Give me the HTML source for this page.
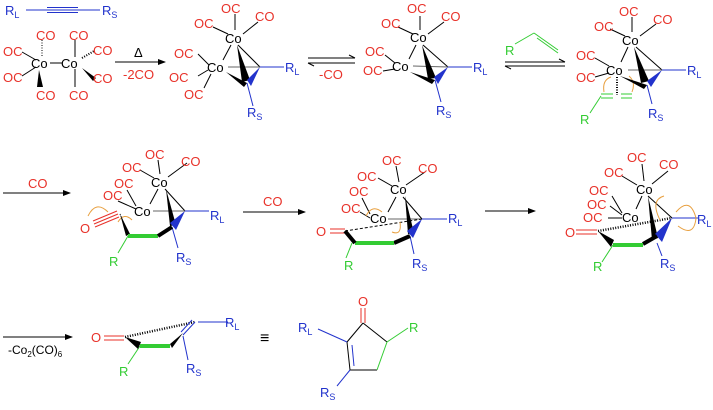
<!DOCTYPE html>
<html><head><style>
html,body{margin:0;padding:0;background:#fff}
svg text{font-family:"Liberation Sans",sans-serif;font-size:13px}
.r{fill:#e8322a}.k{fill:#000}.b{fill:#2233cc}.g{fill:#33cc33}
</style></head><body>
<svg width="713" height="405" viewBox="0 0 713 405" xmlns="http://www.w3.org/2000/svg">
<defs><marker id="ah" markerWidth="8" markerHeight="6" refX="7" refY="3" orient="auto"><path d="M0,0 L8,3 L0,6z" fill="#000"/></marker></defs>
<g stroke="#000" stroke-width="1" fill="none">
<line x1="26" y1="10" x2="47" y2="10" stroke="#2233cc"/>
<line x1="47" y1="7.5" x2="78" y2="7.5" stroke="#2233cc"/><line x1="47" y1="10" x2="78" y2="10" stroke="#2233cc"/><line x1="47" y1="12.5" x2="78" y2="12.5" stroke="#2233cc"/>
<line x1="78" y1="10" x2="100" y2="10" stroke="#2233cc"/>
<line x1="50" y1="63" x2="62" y2="63"/>
<line x1="42" y1="56" x2="42" y2="40" stroke-dasharray="1,1.5"/>
<line x1="36" y1="60" x2="22" y2="52"/><line x1="36" y1="67" x2="22" y2="76"/>
<line x1="75" y1="57" x2="75" y2="40"/><line x1="75" y1="69" x2="75" y2="87"/>
<line x1="82" y1="58" x2="94" y2="51" stroke-dasharray="1,1.5" stroke-width="2"/>
<line x1="115" y1="62" x2="165" y2="62" marker-end="url(#ah)"/>
<line x1="235" y1="30" x2="235" y2="14"/><line x1="243" y1="34" x2="258" y2="22"/><line x1="228" y1="34" x2="213" y2="27"/>
<line x1="231" y1="45" x2="223" y2="60"/><line x1="238" y1="45" x2="260" y2="67"/>
<line x1="209" y1="65" x2="198" y2="54"/><line x1="208" y1="70" x2="198" y2="76"/><line x1="211" y1="74" x2="204" y2="88"/>
<line x1="228" y1="67" x2="260" y2="67" stroke="#666"/>
<line x1="260" y1="67" x2="284" y2="67" stroke="#2233cc"/>
<line x1="247" y1="83" x2="253" y2="106" stroke="#2233cc"/>
<line x1="308" y1="58" x2="355" y2="58"/><line x1="355" y1="58" x2="349" y2="55"/>
<line x1="308" y1="63" x2="355" y2="63"/><line x1="308" y1="63" x2="314" y2="66"/>
<line x1="420" y1="30" x2="420" y2="16"/><line x1="428" y1="34" x2="444" y2="22"/><line x1="413" y1="34" x2="398" y2="27"/>
<line x1="416" y1="45" x2="409" y2="59"/><line x1="423" y1="45" x2="448" y2="67"/>
<line x1="395" y1="63" x2="385" y2="55"/><line x1="395" y1="69" x2="383" y2="71"/>
<line x1="413" y1="66" x2="448" y2="67" stroke="#666"/>
<line x1="448" y1="67" x2="472" y2="67" stroke="#2233cc"/>
<line x1="435" y1="80" x2="441" y2="102" stroke="#2233cc"/>
<line x1="505" y1="62" x2="565" y2="62"/><line x1="565" y1="62" x2="559" y2="59"/>
<line x1="505" y1="66" x2="565" y2="66"/><line x1="505" y1="66" x2="511" y2="69"/>
<line x1="515" y1="44" x2="534" y2="33" stroke="#33cc33"/><line x1="534" y1="33" x2="558" y2="50" stroke="#33cc33"/><line x1="537" y1="38" x2="558" y2="53" stroke="#33cc33"/>
<line x1="632" y1="32" x2="632" y2="17"/><line x1="640" y1="36" x2="656" y2="24"/><line x1="625" y1="36" x2="610" y2="29"/>
<line x1="628" y1="47" x2="621" y2="62"/><line x1="636" y1="47" x2="662" y2="70"/>
<line x1="609" y1="66" x2="595" y2="58"/><line x1="609" y1="73" x2="595" y2="77"/>
<line x1="628" y1="70" x2="662" y2="70" stroke="#666"/>
<line x1="662" y1="70" x2="686" y2="70" stroke="#2233cc"/>
<line x1="647" y1="85" x2="652" y2="104" stroke="#2233cc"/>
<line x1="617" y1="77" x2="617" y2="95" stroke-dasharray="1,1.5" stroke-width="2"/>
<line x1="590" y1="113" x2="601" y2="96" stroke="#33cc33"/>
<line x1="601" y1="94" x2="613" y2="94" stroke="#33cc33"/><line x1="601" y1="98" x2="613" y2="98" stroke="#33cc33"/>
<line x1="621" y1="94" x2="632" y2="94" stroke="#33cc33"/><line x1="621" y1="98" x2="632" y2="98" stroke="#33cc33"/>
<path d="M604,92 Q602,80 611,77" stroke="#e8a040"/><path d="M632,92 Q636,82 629,76" stroke="#e8a040"/>
<line x1="3" y1="193" x2="70" y2="193" marker-end="url(#ah)"/>
<line x1="160" y1="174" x2="158" y2="160"/><line x1="168" y1="177" x2="187" y2="163"/><line x1="154" y1="178" x2="140" y2="170"/>
<line x1="158" y1="189" x2="150" y2="204"/><line x1="165" y1="189" x2="185" y2="211"/>
<line x1="136" y1="206" x2="127" y2="190"/><line x1="136" y1="209" x2="118" y2="201"/>
<line x1="153" y1="211" x2="185" y2="211" stroke="#666"/>
<line x1="185" y1="211" x2="209" y2="211" stroke="#2233cc"/>
<line x1="172" y1="227" x2="178" y2="248" stroke="#2233cc"/>
<line x1="94" y1="224" x2="118" y2="214" stroke="#e8322a"/><line x1="93" y1="221" x2="117" y2="211" stroke="#e8322a"/><line x1="95" y1="227" x2="119" y2="217" stroke="#e8322a"/>
<line x1="120" y1="214" x2="128" y2="233" stroke-dasharray="1,1.5"/>
<line x1="128" y1="236" x2="118" y2="253" stroke="#33cc33"/>
<path d="M88,216 Q96,200 108,212" stroke="#e8a040"/><path d="M118,222 Q124,212 132,220" stroke="#e8a040"/>
<line x1="243" y1="212" x2="305" y2="212" marker-end="url(#ah)"/>
<line x1="399" y1="182" x2="396" y2="166"/><line x1="406" y1="185" x2="425" y2="172"/><line x1="392" y1="186" x2="378" y2="178"/>
<line x1="396" y1="197" x2="388" y2="212"/><line x1="403" y1="197" x2="422" y2="219"/>
<line x1="370" y1="214" x2="362" y2="198"/><line x1="370" y1="218" x2="360" y2="212"/>
<line x1="388" y1="219" x2="422" y2="219" stroke="#666"/>
<line x1="422" y1="219" x2="447" y2="219" stroke="#2233cc"/>
<line x1="410" y1="236" x2="414" y2="254" stroke="#2233cc"/>
<line x1="330" y1="229" x2="345" y2="229" stroke="#e8322a"/><line x1="330" y1="233" x2="345" y2="233" stroke="#e8322a"/>
<line x1="345" y1="231" x2="422" y2="219" stroke-dasharray="3,2"/>
<line x1="352" y1="243" x2="346" y2="258" stroke="#33cc33"/>
<path d="M366,216 Q372,204 382,212" stroke="#e8a040"/><path d="M392,232 Q402,236 400,222" stroke="#e8a040"/>
<line x1="485" y1="211" x2="535" y2="211" marker-end="url(#ah)"/>
<line x1="644" y1="181" x2="642" y2="164"/><line x1="652" y1="184" x2="668" y2="171"/><line x1="637" y1="185" x2="622" y2="176"/>
<line x1="642" y1="196" x2="636" y2="209"/><line x1="648" y1="196" x2="672" y2="218"/>
<line x1="622" y1="213" x2="612" y2="196"/><line x1="622" y1="215" x2="610" y2="206"/><line x1="622" y1="218" x2="608" y2="218"/>
<line x1="672" y1="218" x2="698" y2="218" stroke="#2233cc"/>
<line x1="657" y1="243" x2="662" y2="256" stroke="#2233cc"/>
<line x1="576" y1="230" x2="597" y2="230" stroke="#e8322a"/><line x1="576" y1="234" x2="597" y2="234" stroke="#e8322a"/>
<line x1="598" y1="231" x2="672" y2="218" stroke-dasharray="1,1.5" stroke-width="2.5"/>
<line x1="613" y1="245" x2="602" y2="262" stroke="#33cc33"/>
<path d="M660,220 Q650,200 664,196" stroke="#e8a040"/><path d="M676,212 Q690,196 696,218 Q694,238 678,226" stroke="#e8a040"/>
<line x1="3" y1="337" x2="72" y2="337" marker-end="url(#ah)"/>
<line x1="104" y1="336" x2="124" y2="336" stroke="#e8322a"/><line x1="104" y1="340" x2="124" y2="340" stroke="#e8322a"/>
<line x1="125" y1="337" x2="195" y2="322" stroke-dasharray="1,1.5" stroke-width="2.5"/>
<line x1="195" y1="322" x2="183" y2="335" stroke="#2233cc"/><line x1="192" y1="320" x2="181" y2="332" stroke="#2233cc"/>
<line x1="198" y1="322" x2="228" y2="322" stroke="#2233cc"/>
<line x1="183" y1="336" x2="188" y2="360" stroke="#2233cc"/>
<line x1="140" y1="346" x2="128" y2="364" stroke="#33cc33"/>
<line x1="361" y1="308" x2="361" y2="323" stroke="#e8322a"/><line x1="365" y1="308" x2="365" y2="323" stroke="#e8322a"/>
<line x1="363" y1="323" x2="347" y2="342"/><line x1="363" y1="323" x2="387" y2="342"/>
<line x1="347" y1="342" x2="350" y2="370"/><line x1="352" y1="345" x2="354" y2="366" stroke="#2233cc"/>
<line x1="350" y1="370" x2="377" y2="370"/>
<line x1="377" y1="370" x2="387" y2="342" stroke="#33cc33"/>
<line x1="387" y1="342" x2="408" y2="328" stroke="#33cc33"/>
<line x1="347" y1="342" x2="318" y2="329" stroke="#2233cc"/>
<line x1="350" y1="370" x2="337" y2="386" stroke="#2233cc"/>
</g>
<g fill="#000">
<path d="M39,70 L37,87 L43,87z"/><path d="M82,68 L96,78 L93,81z"/>
<path d="M237,45 L242,82 L250,80z"/><path d="M226,72 L247,83 L244,87z"/><path d="M260,67 L247,80 L251,86z" fill="#2233cc"/>
<path d="M422,45 L428,79 L436,78z"/><path d="M410,72 L435,80 L432,84z"/><path d="M448,67 L434,77 L438,84z" fill="#2233cc"/>
<path d="M634,47 L641,83 L649,81z"/><path d="M620,76 L647,85 L644,89z"/><path d="M662,70 L647,81 L651,87z" fill="#2233cc"/>
<path d="M166,189 L170,226 L176,225z"/><path d="M185,211 L170,223 L176,230z" fill="#2233cc"/><path d="M120,214 L130,234 L126,236z"/>
<path d="M405,196 L408,234 L414,233z"/><path d="M422,219 L407,231 L413,238z" fill="#2233cc"/>
<path d="M648,196 L652,240 L658,238z"/><path d="M672,218 L655,234 L662,242z" fill="#2233cc"/>
<path d="M598,231 L614,240 L611,247z"/><path d="M125,337 L141,342 L138,349z"/><path d="M183,333 L170,344 L172,348z"/>
</g>
<g stroke="#000" stroke-width="4" fill="none"><line x1="394" y1="243" x2="410" y2="236"/><line x1="643" y1="244" x2="657" y2="236"/></g>
<g stroke="#33cc33" stroke-width="4"><line x1="128" y1="236" x2="158" y2="236"/><line x1="355" y1="243" x2="394" y2="243"/><line x1="613" y1="245" x2="643" y2="245"/><line x1="140" y1="346" x2="170" y2="346"/></g>
<g stroke="#000" stroke-width="4"><line x1="158" y1="236" x2="172" y2="227"/><line x1="345" y1="231" x2="355" y2="243"/></g>
<g class="b">
<text x="5" y="15">R<tspan font-size="9" dy="3">L</tspan></text><text x="102" y="15">R<tspan font-size="9" dy="3">S</tspan></text>
<text x="285" y="72">R<tspan font-size="9" dy="3">L</tspan></text><text x="247" y="117">R<tspan font-size="9" dy="3">S</tspan></text>
<text x="473" y="72">R<tspan font-size="9" dy="3">L</tspan></text><text x="436" y="115">R<tspan font-size="9" dy="3">S</tspan></text>
<text x="687" y="75">R<tspan font-size="9" dy="3">L</tspan></text><text x="648" y="118">R<tspan font-size="9" dy="3">S</tspan></text>
<text x="210" y="220">R<tspan font-size="9" dy="3">L</tspan></text><text x="176" y="262">R<tspan font-size="9" dy="3">S</tspan></text>
<text x="448" y="223">R<tspan font-size="9" dy="3">L</tspan></text><text x="412" y="268">R<tspan font-size="9" dy="3">S</tspan></text>
<text x="697" y="224">R<tspan font-size="9" dy="3">L</tspan></text><text x="660" y="268">R<tspan font-size="9" dy="3">S</tspan></text>
<text x="225" y="327">R<tspan font-size="9" dy="3">L</tspan></text><text x="186" y="373">R<tspan font-size="9" dy="3">S</tspan></text>
<text x="298" y="332">R<tspan font-size="9" dy="3">L</tspan></text><text x="320" y="397">R<tspan font-size="9" dy="3">S</tspan></text>
</g>
<g class="g"><text x="505" y="55">R</text><text x="580" y="124">R</text><text x="109" y="266">R</text><text x="344" y="270">R</text><text x="593" y="271">R</text><text x="119" y="376">R</text><text x="409" y="332">R</text></g>
<g class="k"><text x="31" y="68">Co</text><text x="61" y="68">Co</text>
<text x="225" y="43">Co</text><text x="207" y="72">Co</text><text x="410" y="42">Co</text><text x="392" y="71">Co</text><text x="622" y="45">Co</text><text x="606" y="75">Co</text>
<text x="151" y="187">Co</text><text x="134" y="216">Co</text><text x="390" y="194">Co</text><text x="370" y="223">Co</text><text x="636" y="194">Co</text><text x="622" y="222">Co</text>
<text x="134" y="57">Δ</text><text x="260" y="343" style="font-size:16px">≡</text></g>
<g class="r">
<text x="36" y="40">CO</text><text x="69" y="40">CO</text><text x="93" y="55">CO</text><text x="3" y="56">OC</text><text x="3" y="82">OC</text><text x="36" y="100">CO</text><text x="69" y="100">CO</text><text x="93" y="83">CO</text>
<text x="123" y="79">-2CO</text><text x="319" y="79">-CO</text>
<text x="221" y="13">OC</text><text x="255" y="21">CO</text><text x="194" y="28">OC</text><text x="174" y="58">OC</text><text x="169" y="82">OC</text><text x="184" y="99">OC</text>
<text x="407" y="13">OC</text><text x="441" y="21">CO</text><text x="381" y="28">OC</text><text x="365" y="56">OC</text><text x="363" y="75">OC</text>
<text x="619" y="16">OC</text><text x="653" y="24">CO</text><text x="594" y="31">OC</text><text x="576" y="60">OC</text><text x="576" y="82">OC</text>
<text x="28" y="188">CO</text>
<text x="145" y="159">OC</text><text x="181" y="166">CO</text><text x="122" y="172">OC</text><text x="114" y="188">OC</text><text x="103" y="200">OC</text><text x="80" y="233">O</text>
<text x="263" y="206">CO</text>
<text x="382" y="165">OC</text><text x="418" y="173">CO</text><text x="357" y="181">OC</text><text x="349" y="196">OC</text><text x="341" y="213">OC</text><text x="316" y="236">O</text>
<text x="627" y="162">OC</text><text x="659" y="169">CO</text><text x="604" y="177">OC</text><text x="589" y="195">OC</text><text x="587" y="209">OC</text><text x="583" y="222">OC</text><text x="565" y="237">O</text>
<text x="91" y="342">O</text><text x="358" y="306">O</text>
</g>
<text x="8" y="354" class="k" style="font-size:12px">-Co<tspan font-size="8" dy="3">2</tspan><tspan dy="-3">(CO)</tspan><tspan font-size="8" dy="3">6</tspan></text>
</svg>
</body></html>
